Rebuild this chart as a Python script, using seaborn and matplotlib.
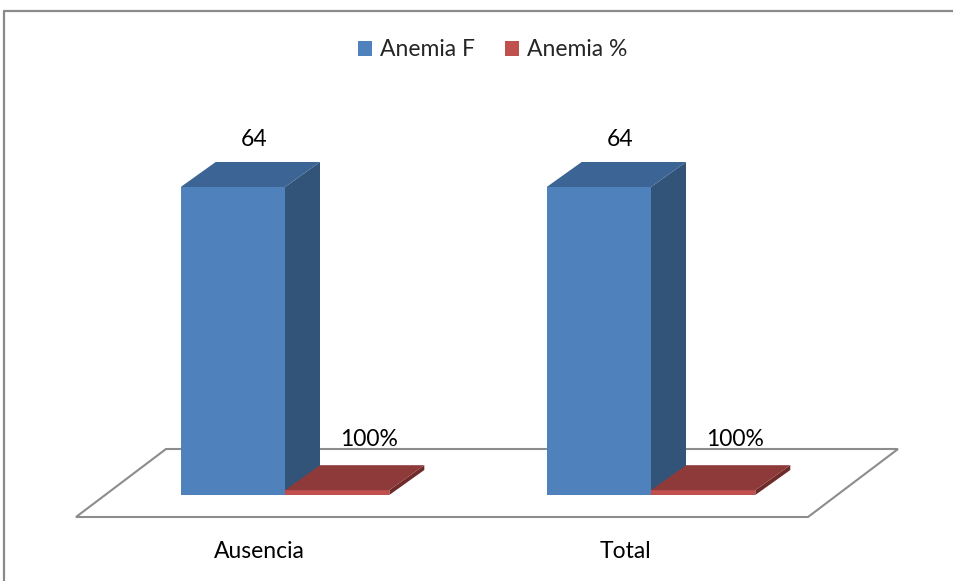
import numpy as np
import pandas as pd
import seaborn as sns
import matplotlib.pyplot as plt
from matplotlib.patches import Polygon, Patch, Rectangle
from matplotlib.lines import Line2D

# Data
categorias = ["Ausencia", "Total"]
series = ["Anemia F", "Anemia %"]
anemia_f = [64, 64]
anemia_pct = [1.0, 1.0]  # 100 %

df = pd.DataFrame({
    "categoria": categorias * 2,
    "serie": [series[0]] * 2 + [series[1]] * 2,
    "valor": anemia_f + anemia_pct,
})

sns.set_theme(style="white")
plt.rcParams["font.family"] = ["Lato", "DejaVu Sans"]

W, H, DPI = 954, 581, 100
FS = 16.5
fig = plt.figure(figsize=(W / DPI, H / DPI), dpi=DPI)
fig.patch.set_facecolor("white")

# axes occupy the front plane of the bars (pixel geometry)
ax_left, ax_right = 102, 834
ax_bottom_px = 495
y_top = 100.0
px_per_y = 4.8125
ax_h = y_top * px_per_y
ax = fig.add_axes([ax_left / W, (H - ax_bottom_px) / H,
                   (ax_right - ax_left) / W, ax_h / H])
ax.set_facecolor("none")

front = {"Anemia F": "#4F81BD", "Anemia %": "#C0504D"}
top = {"Anemia F": "#3C6596", "Anemia %": "#8E3A3A"}
side = {"Anemia F": "#325479", "Anemia %": "#6F2B2A"}

sns.barplot(data=df, x="categoria", y="valor", hue="serie",
            hue_order=series, order=categorias, palette=front,
            width=0.57, saturation=1, dodge=True, legend=False,
            ax=ax, zorder=3)
bars = sorted([p for p in ax.patches if isinstance(p, Rectangle)],
              key=lambda p: p.get_x())
ax.set_xlim(-0.5, 1.5)
ax.set_ylim(0, y_top)
for s in ax.spines.values():
    s.set_visible(False)
ax.set_xticks([])
ax.set_yticks([])
ax.set_xlabel("")
ax.set_ylabel("")

sx = (ax_right - ax_left) / 2.0  # px per x unit


def off(dx_px, dy_px):
    return dx_px / sx, dy_px / px_per_y


# floor of the 3-D plot
fx0, fy0 = off(-26, -22)
fx1, fy1 = off(64, 46)
floor = Polygon([(-0.5 + fx0, fy0), (1.5 + fx0, fy0),
                 (1.5 + fx1, fy1), (-0.5 + fx1, fy1)],
                closed=True, facecolor="white", edgecolor="#8C8C8C",
                linewidth=1.5, clip_on=False, zorder=1)
ax.add_patch(floor)

# depth faces of each bar
dx, dy = off(35, 25)
label_off = {"Anemia F": (21, 47), "Anemia %": (32, 51)}
vals = {}
for i, c in enumerate(categorias):
    vals[(c, series[0])] = anemia_f[i]
    vals[(c, series[1])] = anemia_pct[i]

z = 3
for b in bars:
    x0 = b.get_x()
    w = b.get_width()
    h = b.get_height()
    xc = x0 + w / 2
    ci = int(round(xc))
    ser = series[0] if xc < ci else series[1]
    b.set_zorder(z)
    b.set_edgecolor("none")
    side_p = Polygon([(x0 + w, 0), (x0 + w, h), (x0 + w + dx, h + dy),
                      (x0 + w + dx, dy)], closed=True,
                     facecolor=side[ser], edgecolor="none", zorder=z,
                     clip_on=False)
    top_p = Polygon([(x0, h), (x0 + w, h), (x0 + w + dx, h + dy),
                     (x0 + dx, h + dy)], closed=True,
                    facecolor=top[ser], edgecolor="none", zorder=z,
                    clip_on=False)
    ax.add_patch(side_p)
    ax.add_patch(top_p)
    z += 1
    v = vals[(categorias[ci], ser)]
    txt = f"{v * 100:.0f}%" if ser == "Anemia %" else f"{v:g}"
    lx, ly = off(*label_off[ser])
    ax.text(xc + lx, h + ly, txt, ha="center", va="center",
            fontsize=FS, color="black", zorder=20, clip_on=False)

# category labels below the floor
for i, c in enumerate(categorias):
    ox, oy = off(-26, -56)
    ax.text(i + ox, oy, c, ha="center", va="center", fontsize=FS,
            color="black", clip_on=False)

# legend
handles = [Patch(facecolor=front[s], edgecolor="none", label=s) for s in series]
fig.legend(handles=handles, loc="center", bbox_to_anchor=(493 / W, 1 - 50 / H),
           ncol=2, frameon=False, fontsize=FS, handlelength=0.62,
           handleheight=0.62, handletextpad=0.35, columnspacing=1.3)

# chart area border
fig.add_artist(Line2D([4 / W, 4 / W, 1.01], [-0.01, 1 - 11 / H, 1 - 11 / H],
                      color="#8A8A8A", linewidth=1.6))

fig.savefig("out.png", dpi=DPI, facecolor="white")
